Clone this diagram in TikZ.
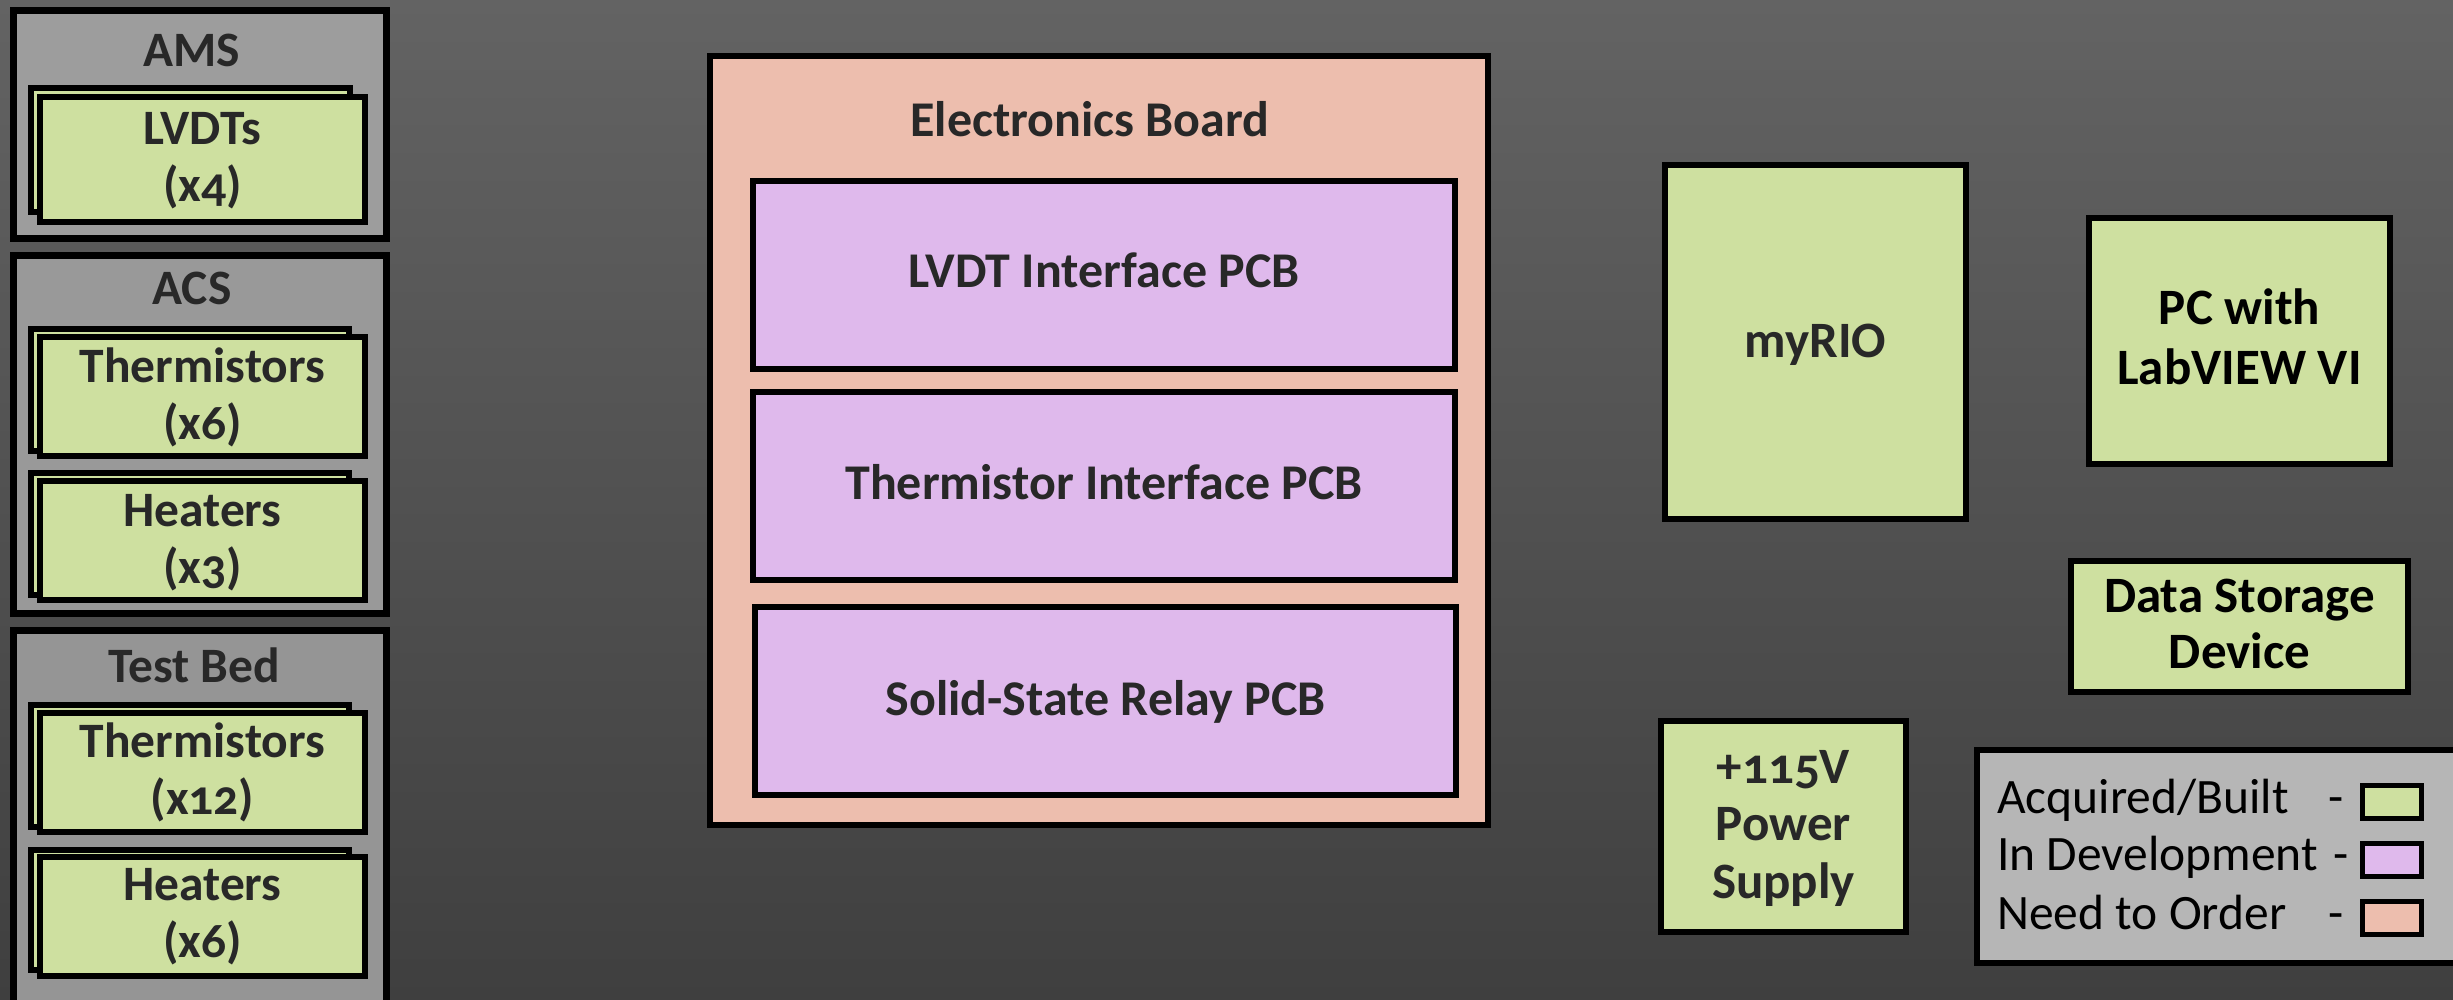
\documentclass[tikz,border=0pt]{standalone}
\usepackage{fontspec}
\setmainfont{Carlito}[Numbers=OldStyle]
\definecolor{bgtop}{RGB}{99,99,99}
\definecolor{bgbot}{RGB}{63,63,63}
\definecolor{grn}{RGB}{206,224,160}
\definecolor{pur}{RGB}{223,185,236}
\definecolor{sal}{RGB}{237,190,174}
\definecolor{grpA}{RGB}{157,157,157}
\definecolor{grpB}{RGB}{153,153,153}
\definecolor{grpC}{RGB}{149,149,149}
\definecolor{legbg}{RGB}{182,182,182}
\definecolor{txtc}{RGB}{40,40,40}
\newcommand{\twoL}[2]{\begin{tabular}[t]{@{}c@{}}#1\\#2\end{tabular}}
\newcommand{\threeL}[3]{\begin{tabular}[t]{@{}c@{}}#1\\#2\\#3\end{tabular}}
\tikzset{
  box/.style={draw=black, line width=6pt, rectangle, inner sep=0pt},
  grp/.style={draw=black, line width=7pt, rectangle, inner sep=0pt},
  swatch/.style={draw=black, line width=5pt, rectangle, inner sep=0pt, minimum width=59pt, minimum height=33pt},
  txt/.style={font=\fontsize{49.5}{57}\selectfont\bfseries, text=txtc, anchor=base, inner sep=0pt},
  btxt/.style={font=\fontsize{50}{57}\selectfont\bfseries, text=txtc, anchor=base, inner sep=0pt},
  ltxt/.style={font=\fontsize{49.5}{58}\selectfont, text=black, anchor=base west, inner sep=0pt},
  dtxt/.style={font=\fontsize{49.5}{58}\selectfont, text=black, anchor=base, inner sep=0pt}
}
\begin{document}
\begin{tikzpicture}[x=1pt,y=-1pt]
\useasboundingbox (0,0) rectangle (2453,1000);
\begin{scope}
\clip (0,0) rectangle (2453,1000);
\shade[top color=bgtop, bottom color=bgbot] (0,0) rectangle (2453,1000);

% group boxes
\node[grp, fill=grpA, minimum width=373pt, minimum height=228pt] (ams) at (200,124.5) {};
\node[grp, fill=grpB, minimum width=373pt, minimum height=358pt] (acs) at (200,434.5) {};
\node[grp, fill=grpC, minimum width=373pt, minimum height=399.5pt] (tb) at (200,830.25) {};
\node[txt] (amsT) at (192,67) {AMS};
\node[txt] (acsT) at (192,305) {ACS};
\node[txt] (tbT) at (194,682) {Test Bed};

% stacked boxes
\node[box, fill=grn, minimum width=319pt, minimum height=124pt] (lvdtB) at (190.5,150) {};
\node[box, fill=grn, minimum width=325pt, minimum height=125pt] (lvdtF) at (202.5,159.5) {};
\node[txt] (lvdtT) at (202.5,145) {\twoL{LVDTs}{(x4)}};

\node[box, fill=grn, minimum width=318pt, minimum height=122pt] (athB) at (190,390) {};
\node[box, fill=grn, minimum width=325pt, minimum height=119pt] (athF) at (202.5,396.5) {};
\node[txt] (athT) at (202.5,382) {\twoL{Thermistors}{(x6)}};

\node[box, fill=grn, minimum width=318pt, minimum height=122pt] (ahtB) at (190,534) {};
\node[box, fill=grn, minimum width=325pt, minimum height=119pt] (ahtF) at (202.5,540.5) {};
\node[txt] (ahtT) at (202.5,526) {\twoL{Heaters}{(x3)}};

\node[box, fill=grn, minimum width=318pt, minimum height=122pt] (tthB) at (190,766) {};
\node[box, fill=grn, minimum width=325pt, minimum height=119pt] (tthF) at (202.5,772.5) {};
\node[txt] (tthT) at (202.5,757) {\twoL{Thermistors}{(x12)}};

\node[box, fill=grn, minimum width=318pt, minimum height=120pt] (thtB) at (190,910) {};
\node[box, fill=grn, minimum width=325pt, minimum height=119pt] (thtF) at (202.5,916.5) {};
\node[txt] (thtT) at (202.5,900) {\twoL{Heaters}{(x6)}};

% electronics board
\node[box, fill=sal, minimum width=778pt, minimum height=769pt] (board) at (1099,440.5) {};
\node[btxt] (boardT) at (1090,137) {Electronics Board};
\node[box, fill=pur, minimum width=702pt, minimum height=188pt] (lvdtpcb) at (1104,275) {};
\node[btxt] (lvdtpcbT) at (1104,288) {LVDT Interface PCB};
\node[box, fill=pur, minimum width=702pt, minimum height=188pt] (thpcb) at (1104,486) {};
\node[btxt] (thpcbT) at (1104,499) {Thermistor Interface PCB};
\node[box, fill=pur, minimum width=701pt, minimum height=188pt] (ssr) at (1105.5,701) {};
\node[btxt] (ssrT) at (1105.5,715) {Solid-State Relay PCB};

% right side
\node[box, fill=grn, minimum width=301pt, minimum height=354pt] (myrio) at (1815.5,342) {};
\node[txt, font=\fontsize{51}{57}\selectfont\bfseries] (myrioT) at (1815.5,357) {myRIO};
\node[box, fill=grn, minimum width=301pt, minimum height=246pt] (pc) at (2239.5,341) {};
\node[txt, text=black, font=\fontsize{51}{60}\selectfont\bfseries] (pcT) at (2239.5,325) {\twoL{PC with}{LabVIEW VI}};
\node[box, fill=grn, minimum width=337pt, minimum height=131pt] (dsd) at (2239.5,626.5) {};
\node[txt, text=black, font=\fontsize{51}{56}\selectfont\bfseries] (dsdT) at (2239.5,612) {\twoL{Data Storage}{Device}};
\node[box, fill=grn, minimum width=245pt, minimum height=211pt] (psu) at (1783.5,826.5) {};
\node[txt, font=\fontsize{51}{57.5}\selectfont\bfseries] (psuT) at (1783.5,783) {\threeL{+115V}{Power}{Supply}};

% legend
\node[box, fill=legbg, minimum width=503pt, minimum height=213pt] (legend) at (2228.5,856.5) {};
\node[ltxt] (l1) at (1997,813) {Acquired/Built};
\node[ltxt] (l2) at (1997,870) {In Development};
\node[ltxt] (l3) at (1997,929) {Need to Order};
\node[dtxt] (d1) at (2336,813) {-};
\node[dtxt] (d2) at (2341,870) {-};
\node[dtxt] (d3) at (2336,929) {-};
\node[swatch, fill=grn] (s1) at (2392,802) {};
\node[swatch, fill=pur] (s2) at (2392,860) {};
\node[swatch, fill=sal] (s3) at (2392,918) {};
\end{scope}
\end{tikzpicture}
\end{document}
